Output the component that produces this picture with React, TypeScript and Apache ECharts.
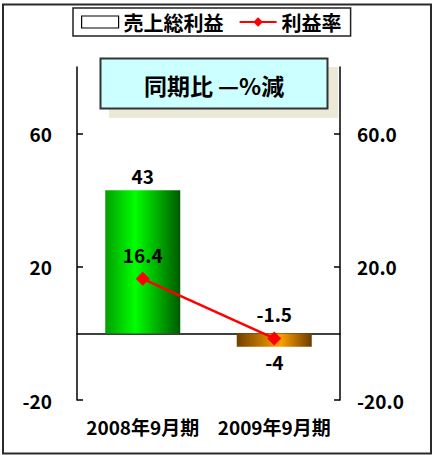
import React, { useEffect, useRef } from "react";
import * as echarts from "echarts";

const categories = ["2008年9月期", "2009年9月期"];
const grossProfit = [43, -4];
const profitRate = [16.4, -1.5];
const leftTicks = [-20, 20, 60];
const rightTicks = [-20, 20, 60];
const seriesNames = ["売上総利益", "利益率"];
const titleText = "同期比 —%減";

const FONT = '"Noto Sans CJK JP", "Noto Sans", sans-serif';

export default function App() {
  const ref = useRef<HTMLDivElement>(null);
  useEffect(() => {
    if (!ref.current) return;
    const chart = echarts.init(ref.current, null, { renderer: "svg" });
    const green = new echarts.graphic.LinearGradient(0, 0, 1, 0, [
      { offset: 0, color: "#00a000" },
      { offset: 0.4, color: "#00ff00" },
      { offset: 1, color: "#005a00" },
    ]);
    const orange = new echarts.graphic.LinearGradient(0, 0, 1, 0, [
      { offset: 0, color: "#704000" },
      { offset: 0.58, color: "#ffa000" },
      { offset: 1, color: "#6a3c00" },
    ]);
    const option: any = {
      animation: false,
      backgroundColor: "#fff",
      textStyle: { fontFamily: FONT },
      legend: {
        left: 73,
        top: 8,
        padding: [4, 9, 4, 8],
        itemGap: 15,
        itemWidth: 37,
        itemHeight: 12,
        borderColor: "#222",
        borderWidth: 1.5,
        backgroundColor: "#fff",
        textStyle: { fontFamily: FONT, fontSize: 20, fontWeight: "bold", color: "#000" },
        data: [
          { name: seriesNames[0], icon: "rect", itemStyle: { color: "#fff", borderColor: "#000", borderWidth: 1.2 } },
          { name: seriesNames[1] },
        ],
      },
      grid: { left: 77, right: 94, top: 67, bottom: 55, containLabel: false, outerBoundsMode: "none" },
      xAxis: {
        type: "category",
        data: categories,
        axisLine: { onZero: true, lineStyle: { color: "#000", width: 1.5 } },
        axisTick: { inside: true, length: 5, lineStyle: { color: "#000", width: 1.5 } },
        axisLabel: {
          interval: 0,
          hideOverlap: false,
          margin: 17,
          fontFamily: FONT,
          fontSize: 19,
          fontWeight: "bold",
          color: "#000",
        },
        splitLine: { show: false },
      },
      yAxis: [
        {
          type: "value",
          min: -20,
          max: 80,
          interval: 40,
          axisLine: { show: true, lineStyle: { color: "#000", width: 1.5 } },
          axisTick: { show: true, inside: true, length: 6, customValues: leftTicks, lineStyle: { color: "#000", width: 1.5 } },
          axisLabel: {
            customValues: leftTicks,
            margin: 25,
            fontFamily: FONT,
            fontSize: 19,
            fontWeight: "bold",
            color: "#000",
          },
          splitLine: { show: false },
        },
        {
          type: "value",
          min: -20,
          max: 80,
          interval: 40,
          position: "right",
          axisLine: { show: true, lineStyle: { color: "#000", width: 1.5 } },
          axisTick: { show: true, inside: true, length: 6, customValues: rightTicks, lineStyle: { color: "#000", width: 1.5 } },
          axisLabel: {
            customValues: rightTicks,
            margin: 17,
            fontFamily: FONT,
            fontSize: 19,
            fontWeight: "bold",
            color: "#000",
            formatter: (v: number) => v.toFixed(1),
          },
          splitLine: { show: false },
        },
      ],
      series: [
        {
          name: seriesNames[0],
          type: "bar",
          barWidth: 75,
          yAxisIndex: 0,
          data: grossProfit.map((v) => ({
            value: v,
            itemStyle: { color: v >= 0 ? green : orange },
            label: { position: v >= 0 ? "top" : "bottom" },
          })),
          label: {
            show: true,
            distance: 5,
            fontFamily: FONT,
            fontSize: 19,
            fontWeight: "bold",
            color: "#000",
          },
          z: 2,
        },
        {
          name: seriesNames[1],
          type: "line",
          yAxisIndex: 1,
          data: profitRate,
          symbol: "diamond",
          symbolSize: 14,
          itemStyle: { color: "#ff0000" },
          lineStyle: { color: "#ff0000", width: 2.5 },
          label: {
            show: true,
            position: "top",
            distance: 8,
            fontFamily: FONT,
            fontSize: 19,
            fontWeight: "bold",
            color: "#000",
            formatter: (p: any) => Number(p.value).toFixed(1),
          },
          z: 5,
        },
      ],
      graphic: [
        {
          type: "rect",
          shape: { x: 3, y: 4.5, width: 428, height: 449 },
          style: { fill: "none", stroke: "#2a2a2a", lineWidth: 2 },
          silent: true,
          z: 100,
        },
        {
          type: "rect",
          shape: { x: 109, y: 67, width: 229, height: 51 },
          style: { fill: "#ece9d8" },
          z: 10,
        },
        {
          type: "rect",
          shape: { x: 100.5, y: 58.5, width: 227, height: 50 },
          style: { fill: "#ccffff", stroke: "#333", lineWidth: 2 },
          z: 11,
        },
        {
          type: "text",
          x: 214,
          y: 85,
          style: {
            text: titleText,
            fontFamily: FONT,
            fontSize: 23,
            fontWeight: "bold",
            fill: "#000",
            align: "center",
            verticalAlign: "middle",
          },
          z: 12,
        },
      ],
    };
    chart.setOption(option);
    return () => chart.dispose();
  }, []);
  return (
    <div
      ref={ref}
      style={{ position: "absolute", left: 0, top: 0, width: 434, height: 455 }}
    />
  );
}
